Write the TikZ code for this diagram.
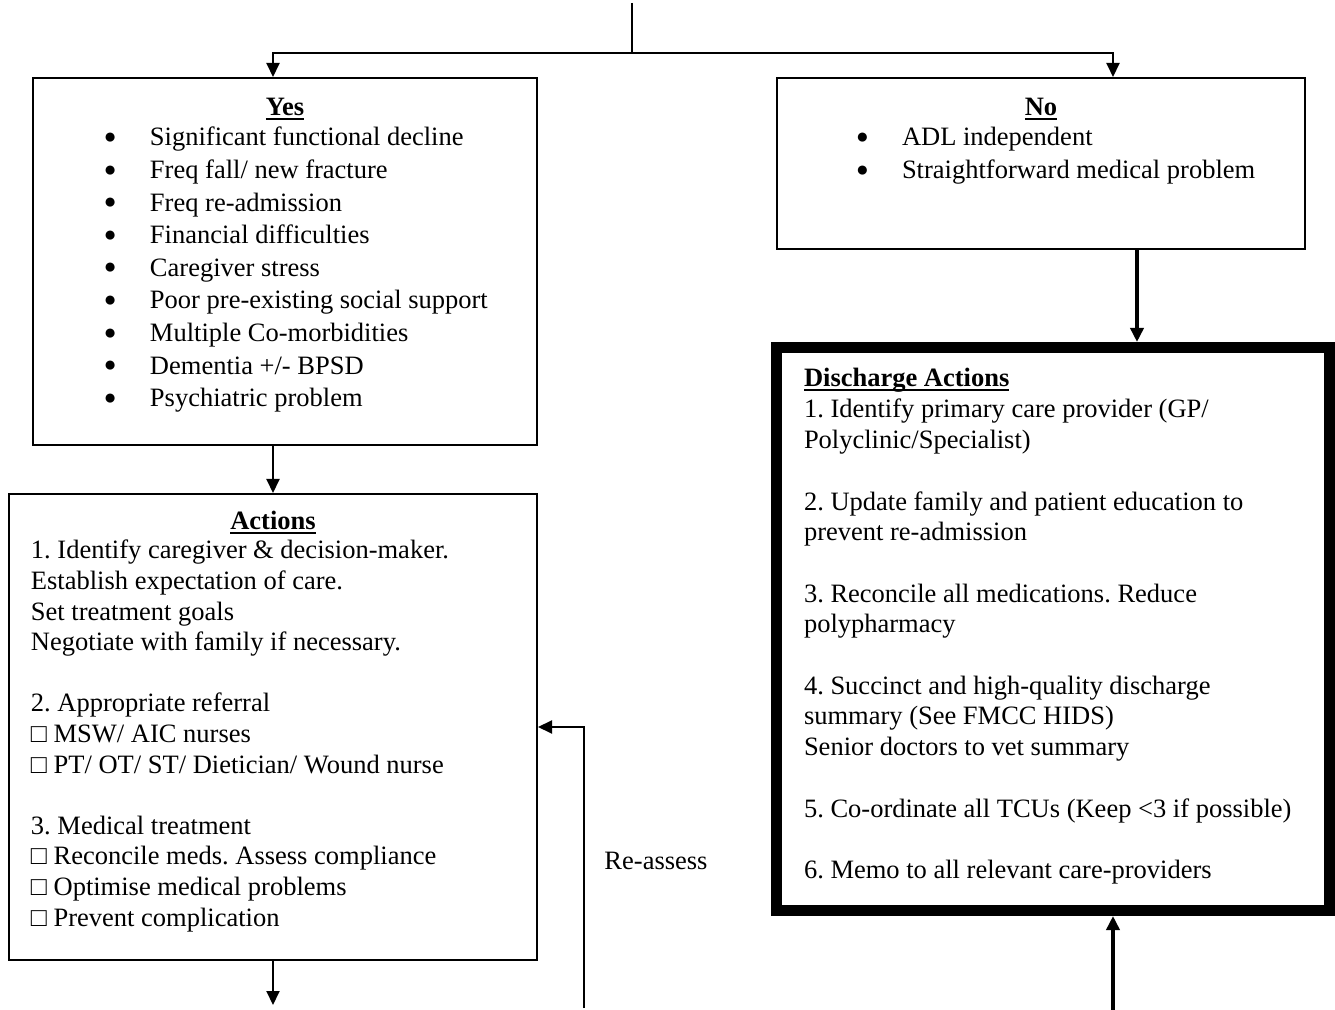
\documentclass[tikz,border=0pt]{standalone}
\usepackage{fontspec}
\setmainfont{Liberation Serif}
\usetikzlibrary{arrows.meta}
\frenchspacing
\newcommand\ulhead[1]{\setbox0\hbox{\textbf{#1}}\rlap{\rule[-2pt]{\wd0}{0.9pt}}\box0}
\newcommand\itm{\makebox[23pt][l]{\raisebox{1.2pt}{\fontsize{10.5}{11}\selectfont ●}}}

\begin{document}
\begin{tikzpicture}[x=0.5pt, y=-0.5pt, line width=1pt,
    box/.style={draw, rectangle, inner sep=0pt},
    txt/.style={inner sep=0pt, anchor=base west, font=\fontsize{13.25}{16.3}\selectfont},
    arr/.style={-{Triangle[length=7pt, width=6.5pt]}}]
    \useasboundingbox (0,0) rectangle (1335,1010);
    \node[box, minimum width=252pt, minimum height=183.5pt] (yes) at (285,261.5) {};
    \node[box, minimum width=264pt, minimum height=85.5pt] (no) at (1041,163.5) {};
    \node[box, minimum width=264pt, minimum height=233pt] (act) at (273,727) {};
    \node[box, line width=5.5pt, minimum width=276.5pt, minimum height=281.5pt] (dis) at (1053,629) {};

    \node[txt, anchor=base] (yeshead) at (285,116) {\ulhead{Yes}};
    \node[txt] (yeslist) at (103,146) {\begin{tabular}[t]{@{}l@{}}
        \itm Significant functional decline\\
        \itm Freq fall/ new fracture\\
        \itm Freq re-admission\\
        \itm Financial difficulties\\
        \itm Caregiver stress\\
        \itm Poor pre-existing social support\\
        \itm Multiple Co-morbidities\\
        \itm Dementia +/- BPSD\\
        \itm Psychiatric problem
        \end{tabular}};
    \node[txt, anchor=base] (nohead) at (1041,116) {\ulhead{No}};
    \node[txt] (nolist) at (855,146) {\begin{tabular}[t]{@{}l@{}}
        \itm ADL independent\\
        \itm Straightforward medical problem
        \end{tabular}};
    \node[txt, anchor=base] (acthead) at (273,530) {\ulhead{Actions}};
    \node[txt, font=\fontsize{13.25}{15.3}\selectfont] (actlist) at (30,559) {\begin{tabular}[t]{@{}l@{}}
        1. Identify caregiver \& decision-maker.\\
        Establish expectation of care.\\
        Set treatment goals\\
        Negotiate with family if necessary.\\
        \\
        2. Appropriate referral\\
        □ MSW/ AIC nurses\\
        □ PT/ OT/ ST/ Dietician/ Wound nurse\\
        \\
        3. Medical treatment\\
        □ Reconcile meds. Assess compliance\\
        □ Optimise medical problems\\
        □ Prevent complication
        \end{tabular}};
    \node[txt] (dishead) at (803,387) {\ulhead{Discharge Actions}};
    \node[txt, font=\fontsize{13.25}{15.35}\selectfont] (dislist) at (803,418) {\begin{tabular}[t]{@{}l@{}}
        1. Identify primary care provider (GP/\\
        Polyclinic/Specialist)\\
        \\
        2. Update family and patient education to\\
        prevent re-admission\\
        \\
        3. Reconcile all medications. Reduce\\
        polypharmacy\\
        \\
        4. Succinct and high-quality discharge\\
        summary (See FMCC HIDS)\\
        Senior doctors to vet summary\\
        \\
        5. Co-ordinate all TCUs (Keep <3 if possible)\\
        \\
        6. Memo to all relevant care-providers
        \end{tabular}};
    \node[txt, anchor=base] (reassess) at (656,870) {Re-assess};

    \coordinate (top) at (632,3);
    \coordinate (split) at (632,53);
    \coordinate (actout) at (273,1005);
    \coordinate (loop) at (584,1008);
    \coordinate (disin) at (1113,1010);
    \draw (top) -- (split);
    \draw[arr] (split) -| (yes.north -| act.north);
    \draw[arr] (split) -| ([xshift=36pt]no.north);
    \draw[arr] (yes.south -| act.north) -- (act.north);
    \draw[arr, line width=2pt] ([xshift=48pt]no.south) -- ([xshift=48pt]no.south |- dis.north);
    \draw[arr] (act.south) -- (actout);
    \draw[arr] (loop) |- (act.east);
    \draw[arr, line width=2pt] (disin) -- (disin |- dis.south);
\end{tikzpicture}
\end{document}
